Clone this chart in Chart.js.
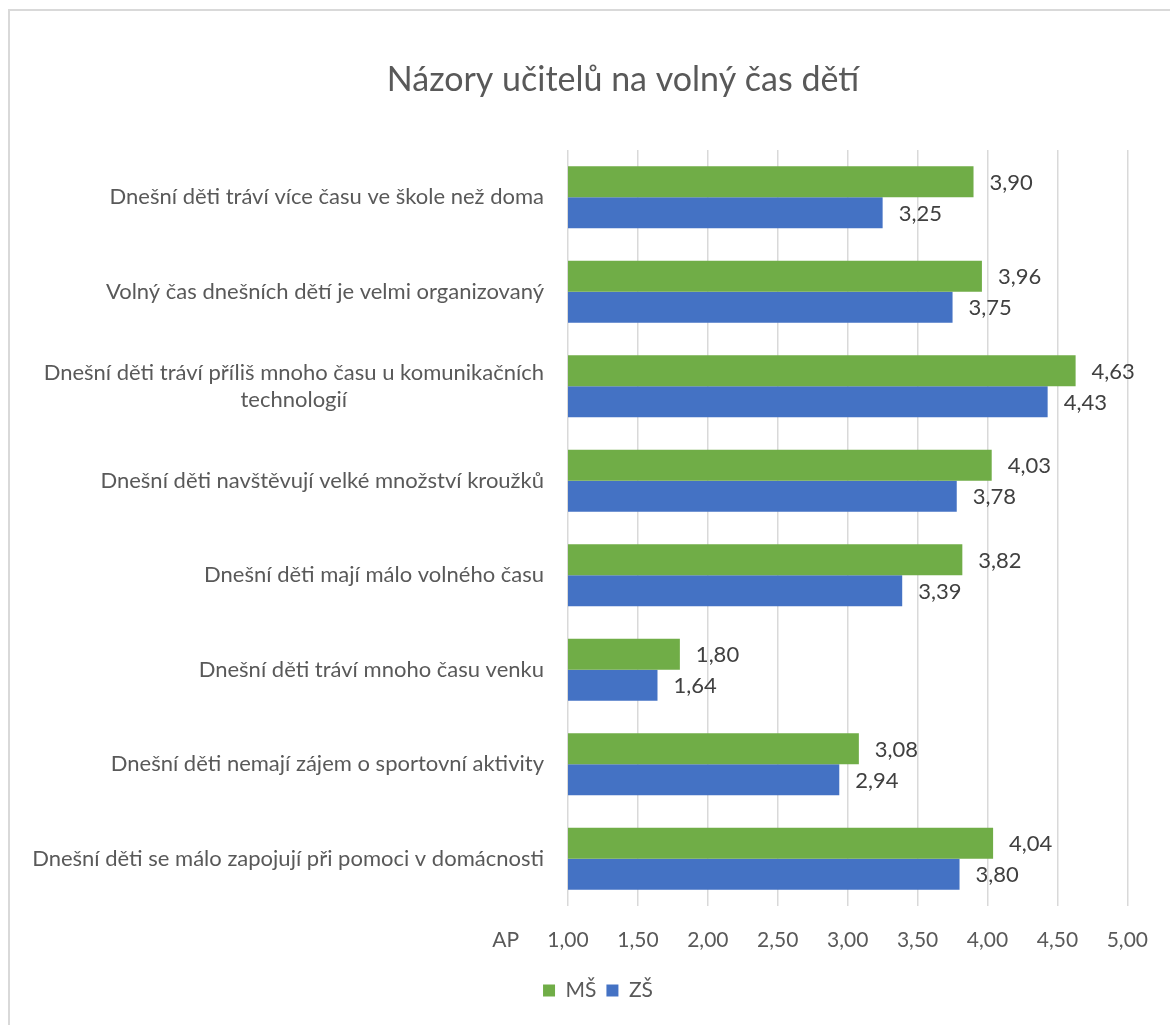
<!DOCTYPE html>
<html>
<head>
<meta charset="utf-8">
<script src="https://cdn.jsdelivr.net/npm/chart.js@4"></script>
<style>
html,body{margin:0;padding:0;background:#fff;}
canvas{display:block;}
</style>
</head>
<body>
<canvas id="c" width="1170" height="1025"></canvas>
<script>
const chartTitle = 'Názory učitelů na volný čas dětí';
const categories = [
  'Dnešní děti tráví více času ve škole než doma',
  'Volný čas dnešních dětí je velmi organizovaný ',
  ['Dnešní děti tráví příliš mnoho času u komunikačních', 'technologií'],
  'Dnešní děti navštěvují velké množství kroužků',
  'Dnešní děti mají málo volného času',
  'Dnešní děti tráví mnoho času venku',
  'Dnešní děti nemají zájem o sportovní aktivity',
  'Dnešní děti se málo zapojují při pomoci v domácnosti'
];
const seriesNames = ['MŠ', 'ZŠ'];
const msValues = [3.90, 3.96, 4.63, 4.03, 3.82, 1.80, 3.08, 4.04];
const zsValues = [3.25, 3.75, 4.43, 3.78, 3.39, 1.64, 2.94, 3.80];
const xAxisTitle = 'AP';
const xMin = 1, xMax = 5, xStep = 0.5;

const FONT = "Lato, 'Open Sans', sans-serif";
const FS_CAT = 22, FS = 21;
const fmt = v => Number(v).toFixed(2).replace('.', ',');

const PLOT_LEFT = 568, PLOT_BOTTOM = 906, PAD_BOTTOM = 14, PAD_LEFT = 114;

const framePlugin = {
  id: 'frame',
  beforeDraw(chart) {
    const ctx = chart.ctx;
    ctx.save();
    ctx.fillStyle = '#fff';
    ctx.fillRect(0, 0, chart.width, chart.height);
    ctx.strokeStyle = '#d9d9d9';
    ctx.lineWidth = 2;
    ctx.strokeRect(9, 10, chart.width + 10, chart.height + 10);
    ctx.restore();
  }
};

const legendShiftPlugin = {
  id: 'legendShift',
  afterLayout(chart) {
    const lg = chart.legend;
    if (lg) { lg.left -= 25; lg.right -= 25; }
  }
};

const yLabelsPlugin = {
  id: 'yLabels',
  afterDraw(chart) {
    const ctx = chart.ctx;
    const ys = chart.scales.y;
    const right = chart.chartArea.left - 24;
    const lh = 27;
    ctx.save();
    ctx.font = FS_CAT + 'px ' + FONT;
    ctx.fillStyle = '#595959';
    ctx.textBaseline = 'middle';
    ctx.textAlign = 'center';
    categories.forEach((lab, i) => {
      const lines = Array.isArray(lab) ? lab : [lab];
      const maxW = Math.max(...lines.map(l => ctx.measureText(l.trimEnd()).width));
      const cy = ys.getPixelForValue(i);
      const y0 = cy - (lines.length - 1) * lh / 2;
      lines.forEach((l, k) => {
        ctx.fillText(l.trimEnd(), right - maxW / 2, y0 + k * lh);
      });
    });
    const xs = chart.scales.x;
    ctx.font = FS + 'px ' + FONT;
    ctx.textAlign = 'right';
    ctx.fillText(xAxisTitle, 519, xs.top + 22 + FS * 0.6);
    ctx.restore();
  }
};

const dataLabelsPlugin = {
  id: 'dataLabels',
  afterDatasetsDraw(chart) {
    const ctx = chart.ctx;
    ctx.save();
    ctx.font = (FS + 1) + 'px ' + FONT;
    ctx.fillStyle = '#404040';
    ctx.textAlign = 'left';
    ctx.textBaseline = 'middle';
    chart.data.datasets.forEach((ds, di) => {
      const meta = chart.getDatasetMeta(di);
      meta.data.forEach((bar, i) => {
        ctx.fillText(fmt(ds.data[i]), bar.x + 16, bar.y + 1);
      });
    });
    ctx.restore();
  }
};

new Chart(document.getElementById('c'), {
  type: 'bar',
  data: {
    labels: categories,
    datasets: [
      { label: seriesNames[0], data: msValues, backgroundColor: '#70AD47', borderWidth: 0 },
      { label: seriesNames[1], data: zsValues, backgroundColor: '#4472C4', borderWidth: 0 }
    ]
  },
  options: {
    indexAxis: 'y',
    responsive: false,
    animation: false,
    devicePixelRatio: 1,
    categoryPercentage: 0.656,
    barPercentage: 1.0,
    layout: { padding: { left: PAD_LEFT, right: 38, top: 0, bottom: PAD_BOTTOM } },
    scales: {
      x: {
        min: xMin, max: xMax,
        ticks: {
          stepSize: xStep,
          callback: v => fmt(v),
          font: { family: FONT, size: FS },
          color: '#595959',
          padding: 22
        },
        grid: { color: '#d9d9d9', lineWidth: 1.5, drawTicks: false },
        border: { display: false },
        afterFit(scale) {
          const lg = scale.chart.legend;
          const lh = lg ? lg.height : 40;
          scale.height = scale.chart.height - PAD_BOTTOM - lh - PLOT_BOTTOM;
        }
      },
      y: {
        ticks: { display: false },
        grid: { display: false },
        border: { display: false },
        afterFit(scale) { scale.width = PLOT_LEFT - PAD_LEFT; }
      }
    },
    plugins: {
      title: {
        display: true,
        text: chartTitle,
        color: '#595959',
        font: { family: FONT, size: 34, weight: 'normal' },
        padding: { top: 60, bottom: 49.2 }
      },
      legend: {
        position: 'bottom',
        labels: {
          boxWidth: 12, boxHeight: 12, padding: 10,
          color: '#595959',
          font: { family: FONT, size: FS }
        }
      },
      tooltip: { enabled: false }
    }
  },
  plugins: [framePlugin, legendShiftPlugin, yLabelsPlugin, dataLabelsPlugin]
});
</script>
</body>
</html>
